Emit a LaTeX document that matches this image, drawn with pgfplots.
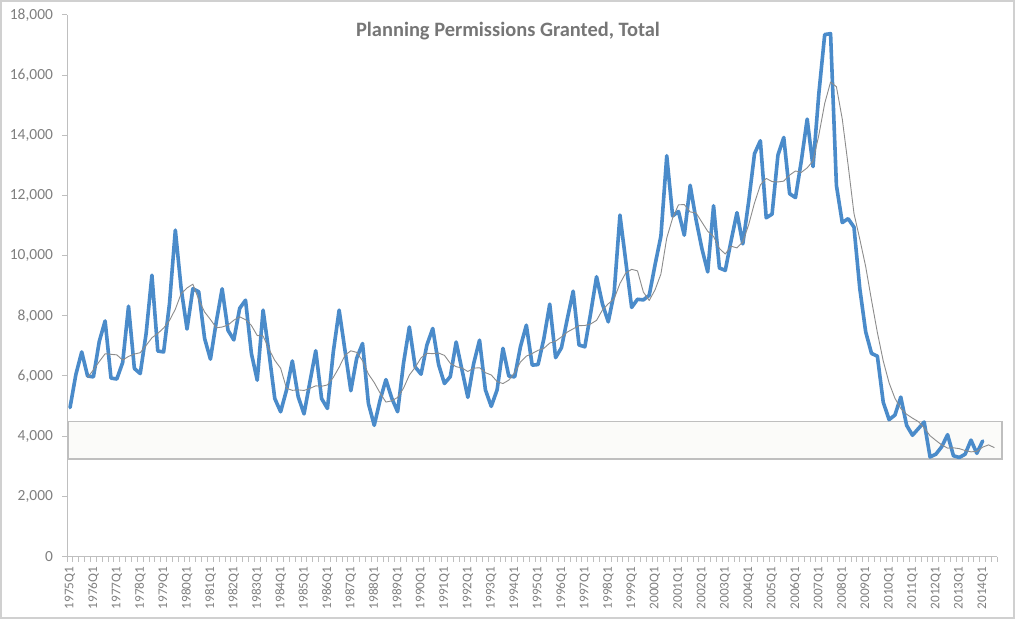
\documentclass[border=0pt]{standalone}
\usepackage{pgfplots}
\pgfplotsset{compat=1.18}
\usepackage{pgfplotstable}
\usepackage{fontspec}
\setmainfont{Carlito}

\definecolor{serieblue}{HTML}{4A8BCA}
\definecolor{magray}{HTML}{8C8C8C}
\definecolor{axisgray}{HTML}{BFBFBF}
\definecolor{labelgray}{HTML}{7F7F7F}
\definecolor{titlegray}{HTML}{767676}
\definecolor{framegray}{HTML}{D0D0D0}
\definecolor{boxfill}{HTML}{FBFBF9}

% quarter index (0 = 1975Q1), permissions granted, 4-quarter moving average
\pgfplotstableread{
q v ma
0 4950 nan
1 6050 nan
2 6800 nan
3 6000 5950
4 5970 6205
5 7150 6480
6 7830 6738
7 5930 6720
8 5900 6703
9 6450 6528
10 8320 6650
11 6250 6730
12 6080 6775
13 7400 7013
14 9350 7270
15 6830 7415
16 6800 7595
17 8400 7845
18 10850 8220
19 8900 8738
20 7560 8928
21 8900 9053
22 8800 8540
23 7250 8128
24 6560 7878
25 7800 7603
26 8900 7628
27 7520 7695
28 7200 7855
29 8250 7968
30 8520 7873
31 6750 7680
32 5860 7345
33 8190 7330
34 6780 6895
35 5250 6520
36 4810 6258
37 5530 5593
38 6500 5523
39 5310 5538
40 4740 5520
41 5800 5588
42 6840 5673
43 5250 5658
44 4920 5703
45 6800 5953
46 8190 6290
47 6850 6690
48 5510 6838
49 6590 6785
50 7080 6508
51 5090 6068
52 4360 5780
53 5200 5433
54 5880 5133
55 5260 5175
56 4810 5288
57 6420 5593
58 7630 6030
59 6300 6290
60 6060 6603
61 7030 6755
62 7580 6743
63 6380 6763
64 5750 6685
65 5980 6423
66 7130 6310
67 6200 6265
68 5290 6150
69 6420 6260
70 7190 6275
71 5540 6110
72 4990 6035
73 5540 5815
74 6920 5748
75 6000 5863
76 5970 6108
77 6980 6468
78 7690 6660
79 6360 6750
80 6380 6853
81 7250 6920
82 8390 7095
83 6610 7158
84 6940 7298
85 7900 7460
86 8820 7568
87 7030 7673
88 6970 7680
89 8100 7730
90 9300 7850
91 8400 8193
92 7800 8400
93 8750 8563
94 11350 9075
95 9800 9425
96 8280 9545
97 8550 9495
98 8530 8790
99 8680 8510
100 9700 8865
101 10650 9390
102 13320 10588
103 11320 11248
104 11470 11690
105 10680 11698
106 12340 11453
107 11200 11423
108 10240 11115
109 9460 10810
110 11660 10640
111 9590 10238
112 9510 10055
113 10500 10315
114 11430 10258
115 10390 10458
116 11800 11030
117 13390 11753
118 13820 12350
119 11260 12568
120 11380 12463
121 13340 12450
122 13930 12478
123 12060 12678
124 11930 12815
125 13150 12768
126 14540 12920
127 12960 13145
128 15400 14013
129 17350 15063
130 17380 15773
131 12330 15615
132 11100 14540
133 11230 13010
134 10950 11403
135 8900 10545
136 7470 9638
137 6750 8518
138 6660 7445
139 5130 6503
140 4550 5773
141 4700 5260
142 5300 4920
143 4360 4728
144 4030 4598
145 4250 4485
146 4470 4278
147 3310 4015
148 3400 3858
149 3650 3708
150 4050 3603
151 3350 3613
152 3290 3585
153 3400 3523
154 3870 3478
155 3430 3498
156 3840 3635
157 nan 3710
158 nan 3620
}\permissions

\begin{document}
\begin{tikzpicture}
\path[use as bounding box] (0bp,0bp) rectangle (1018bp,622bp);
\fill[white] (0bp,0bp) rectangle (1018bp,622bp);
\draw[framegray, line width=1.5bp] (1bp,4bp) rectangle (1014bp,621bp);
\node[anchor=base, font=\fontsize{20.5}{24}\selectfont\bfseries, text=titlegray]
  at (508bp,585.3bp) {Planning Permissions Granted, Total};
\begin{axis}[
  at={(67.1bp,65.5bp)}, anchor=south west,
  scale only axis, width=930.2bp, height=541.5bp,
  xmin=-0.5, xmax=158.5, ymin=0, ymax=18000,
  axis x line*=bottom, axis y line*=left,
  axis line style={axisgray, line width=1bp},
  clip=false,
  unbounded coords=jump,
  tick align=outside,
  major tick length=5bp, minor tick length=5bp,
  ytick={0,2000,...,18000},
  ytick style={axisgray, line width=1bp},
  scaled y ticks=false,
  /pgf/number format/1000 sep={,},
  /pgf/number format/assume math mode=true,
  yticklabel shift=9bp,
  yticklabel style={font=\fontsize{15.5}{18}\selectfont, text=labelgray, inner sep=0pt, anchor=east},
  xtick={0,4,...,156},
  xticklabels={1975Q1,1976Q1,1977Q1,1978Q1,1979Q1,1980Q1,1981Q1,1982Q1,1983Q1,1984Q1,
    1985Q1,1986Q1,1987Q1,1988Q1,1989Q1,1990Q1,1991Q1,1992Q1,1993Q1,1994Q1,
    1995Q1,1996Q1,1997Q1,1998Q1,1999Q1,2000Q1,2001Q1,2002Q1,2003Q1,2004Q1,
    2005Q1,2006Q1,2007Q1,2008Q1,2009Q1,2010Q1,2011Q1,2012Q1,2013Q1,2014Q1},
  major x tick style={draw=none},
  minor xtick={-0.5,0.5,...,158.5},
  minor x tick style={axisgray, line width=1bp},
  xticklabel shift=5bp,
  xticklabel style={font=\fontsize{13.3}{16}\selectfont, text=labelgray, inner sep=0pt, rotate=90, anchor=east},
]
\draw[axisgray, line width=1.2bp, fill=boxfill] (axis cs:-0.3,3240) rectangle (axis cs:159.3,4480);
\addplot[serieblue, line width=3.6bp, line join=round, line cap=round] table[x=q, y=v] {\permissions};
\addplot[magray, line width=0.9bp, line join=round] table[x=q, y=ma] {\permissions};
\end{axis}
\end{tikzpicture}
\end{document}
